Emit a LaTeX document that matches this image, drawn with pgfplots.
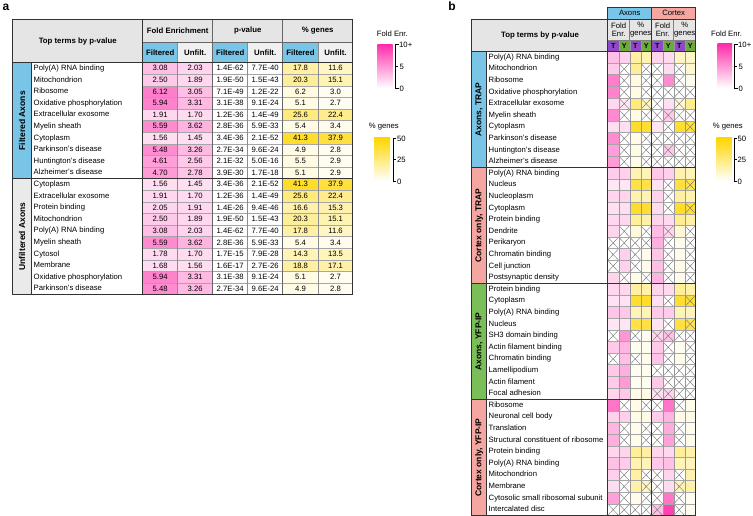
\documentclass[border=0pt]{standalone}
\usepackage{fontspec}
\setmainfont{Liberation Sans}
\usepackage{pgfplots}
\usepackage{pgfplotstable}
\pgfplotsset{compat=1.18}

\definecolor{cblue}{RGB}{120,197,232}
\definecolor{csalmon}{RGB}{246,166,160}
\definecolor{cgreen}{RGB}{122,190,88}
\definecolor{cpurple}{RGB}{142,72,200}
\definecolor{cgreenY}{RGB}{108,170,62}
\definecolor{hgray}{RGB}{229,229,229}
\definecolor{lgray}{RGB}{240,240,240}
\definecolor{sgray}{RGB}{234,234,234}
\definecolor{pinkmax}{RGB}{255,45,170}
\definecolor{yelmax}{RGB}{255,214,0}
\definecolor{lin}{RGB}{50,50,50}

\newcommand\fs{\fontsize{7.7}{9}\selectfont}
\newcommand\bfs{\bfseries\fontsize{7.8}{9}\selectfont}
\newcommand\sfs{\bfseries\fontsize{8.5}{10}\selectfont}

\pgfdeclareplotmark{acell}{\pgfpathrectangle{\pgfpoint{-17.5pt}{-5.8pt}}{\pgfpoint{35pt}{11.6pt}}\pgfusepathqfill}
\pgfdeclareplotmark{bcell}{\pgfpathrectangle{\pgfpoint{-5.5pt}{-5.8pt}}{\pgfpoint{11pt}{11.6pt}}\pgfusepathqfill}
\pgfdeclareplotmark{bx}{\pgfpathmoveto{\pgfpoint{-5.5pt}{-5.8pt}}\pgfpathlineto{\pgfpoint{5.5pt}{5.8pt}}\pgfpathmoveto{\pgfpoint{-5.5pt}{5.8pt}}\pgfpathlineto{\pgfpoint{5.5pt}{-5.8pt}}\pgfusepathqstroke}

\pgfplotsset{
  tl/.style={draw=none, mark=none, nodes near coords, point meta=explicit symbolic,
    every node near coord/.style={anchor=center, inner sep=0pt, text=black, font=\fs, text height=5.5pt, text depth=0.5pt}},
  tt/.style={draw=none, mark=none, nodes near coords, point meta=explicit symbolic,
    every node near coord/.style={anchor=west, inner sep=0pt, text=black, font=\fs, text height=5.5pt, text depth=1.5pt}},
  sc/.style={scatter, only marks, scatter/use mapped color={fill=mapped color}},
}

\pgfplotstableread[col sep=comma]{
term,f1,f2,p1,p2,g1,g2
Poly(A) RNA binding,3.08,2.03,1.4E-62,7.7E-40,17.8,11.6
Mitochondrion,2.50,1.89,1.9E-50,1.5E-43,20.3,15.1
Ribosome,6.12,3.05,7.1E-49,1.2E-22,6.2,3.0
Oxidative phosphorylation,5.94,3.31,3.1E-38,9.1E-24,5.1,2.7
Extracellular exosome,1.91,1.70,1.2E-36,1.4E-49,25.6,22.4
Myelin sheath,5.59,3.62,2.8E-36,5.9E-33,5.4,3.4
Cytoplasm,1.56,1.45,3.4E-36,2.1E-52,41.3,37.9
Parkinson's disease,5.48,3.26,2.7E-34,9.6E-24,4.9,2.8
Huntington's disease,4.61,2.56,2.1E-32,5.0E-16,5.5,2.9
Alzheimer's disease,4.70,2.78,3.9E-30,1.7E-18,5.1,2.9
Cytoplasm,1.56,1.45,3.4E-36,2.1E-52,41.3,37.9
Extracellular exosome,1.91,1.70,1.2E-36,1.4E-49,25.6,22.4
Protein binding,2.05,1.91,1.4E-26,9.4E-46,16.6,15.3
Mitochondrion,2.50,1.89,1.9E-50,1.5E-43,20.3,15.1
Poly(A) RNA binding,3.08,2.03,1.4E-62,7.7E-40,17.8,11.6
Myelin sheath,5.59,3.62,2.8E-36,5.9E-33,5.4,3.4
Cytosol,1.78,1.70,1.7E-15,7.9E-28,14.3,13.5
Membrane,1.68,1.56,1.6E-17,2.7E-26,18.8,17.1
Oxidative phosphorylation,5.94,3.31,3.1E-38,9.1E-24,5.1,2.7
Parkinson's disease,5.48,3.26,2.7E-34,9.6E-24,4.9,2.8
}\tabA

\pgfplotstableread[col sep=comma]{
term,va,vb,vc,vd,ve,vf,vg,vh
Poly(A) RNA binding,3.08,2.2,17.8,15,2.0,1.8,12,11
Mitochondrion,2.50,0,20.3,0,0,1.6,0,10
Ribosome,6.12,0,6.2,0,0,5.5,0,4
Oxidative phosphorylation,5.94,0,5.1,0,0,0,0,0
Extracellular exosome,1.91,1.2,25.6,12,0,1.5,8,22
Myelin sheath,5.59,0,5.4,0,0,2.5,0,0
Cytoplasm,1.56,1.5,41.3,40,1.3,0,40,38
Parkinson's disease,5.48,0,4.9,0,0,0,0,0
Huntington's disease,4.61,0,5.5,0,0,2.5,0,0
Alzheimer's disease,4.70,0,5.1,0,0,0,0,0
Poly(A) RNA binding,2.4,2.2,15,14,2.6,2.3,16,14
Nucleus,1.2,1.2,36,35,1.4,0,37,35
Nucleoplasm,2.0,2.0,16,15,2.1,0,18,16
Cytoplasm,1.5,1.5,41,40,1.6,0,42,40
Protein binding,1.9,1.9,20,17,2.0,1.8,22,18
Dendrite,2.0,0,7,0,3.2,2.0,8,0
Perikaryon,0,0,0,0,3.8,0,4,0
Chromatin binding,0,2.3,0,4,2.8,0,4,0
Cell junction,0,2.2,0,4,3.0,0,5,0
Postsynaptic density,2.0,0,4,0,3.5,0,4,0
Protein binding,1.9,1.9,18,17,2.0,1.8,20,17
Cytoplasm,1.4,1.4,40,42,1.5,0,40,40
Poly(A) RNA binding,2.8,2.6,14,14,2.5,2.4,14,13
Nucleus,1.2,1.2,36,37,1.3,0,37,35
SH3 domain binding,0,5.0,0,3,2.0,3.0,0,0
Actin filament binding,2.5,3.5,3,3,2.5,0,3,0
Chromatin binding,0,3.0,0,4,2.8,0,4,0
Lamellipodium,2.5,3.8,3,3,0,0,0,0
Actin filament,2.5,4.8,3,3,2.6,0,0,0
Focal adhesion,2.0,2.6,5,5,1.5,2.0,0,0
Ribosome,6.5,0,5,0,0,6.5,0,4
Neuronal cell body,2.2,2.3,5,5,2.4,3.5,5,5
Translation,3.5,0,4,0,0,4.0,0,4
Structural constituent of ribosome,3.8,0,4,0,0,4.5,0,4
Protein binding,2.0,2.0,20,18,2.0,1.9,20,17
Poly(A) RNA binding,3.0,2.4,15,14,2.5,3.0,14,13
Mitochondrion,2.3,0,18,0,0,2.0,0,16
Membrane,1.6,0,17,12,0,1.6,14,17
Cytosolic small ribosomal subunit,4.5,0,4,0,0,6.5,0,3
Intercalated disc,0,0,0,0,3.0,9.0,0,3
}\tabB

\pgfplotstableread[row sep=\\]{
c r\\
2 2\\ 4 2\\ 5 2\\ 7 2\\
2 3\\ 4 3\\ 5 3\\ 7 3\\
2 4\\ 4 4\\ 5 4\\ 6 4\\ 7 4\\ 8 4\\
2 5\\ 4 5\\ 5 5\\ 7 5\\
2 6\\ 4 6\\ 5 6\\ 6 6\\ 7 6\\ 8 6\\
6 7\\ 8 7\\
2 8\\ 4 8\\ 5 8\\ 6 8\\ 7 8\\ 8 8\\
2 9\\ 4 9\\ 5 9\\ 6 9\\ 7 9\\ 8 9\\
2 10\\ 4 10\\ 5 10\\ 6 10\\ 7 10\\ 8 10\\
6 12\\ 8 12\\
6 13\\
6 14\\ 8 14\\
2 16\\ 4 16\\ 6 16\\ 8 16\\
1 17\\ 2 17\\ 3 17\\ 4 17\\ 6 17\\ 8 17\\
1 18\\ 3 18\\ 6 18\\ 8 18\\
1 19\\ 3 19\\ 6 19\\ 8 19\\
2 20\\ 4 20\\ 6 20\\ 8 20\\
6 22\\ 8 22\\
6 24\\ 8 24\\
1 25\\ 3 25\\ 5 25\\ 6 25\\ 7 25\\ 8 25\\
6 26\\ 8 26\\
1 27\\ 3 27\\ 6 27\\ 8 27\\
5 28\\ 6 28\\ 7 28\\ 8 28\\
6 29\\ 7 29\\ 8 29\\
5 30\\ 6 30\\ 7 30\\ 8 30\\
2 31\\ 4 31\\ 5 31\\ 7 31\\
2 33\\ 4 33\\ 5 33\\ 7 33\\
2 34\\ 4 34\\ 5 34\\ 7 34\\
2 37\\ 4 37\\ 5 37\\ 7 37\\
2 38\\ 4 38\\ 5 38\\ 7 38\\
2 39\\ 4 39\\ 5 39\\ 7 39\\
1 40\\ 2 40\\ 3 40\\ 4 40\\ 5 40\\ 7 40\\
}\tabX

\begin{document}
\begin{tikzpicture}
% ---------- backgrounds ----------
\begin{scope}[shift={(0,516pt)}, x=1pt, y=-1pt]
  \fill[hgray] (12.7,19.3) rectangle (352.7,42.3);
  \fill[hgray] (12.7,42.3) rectangle (142.7,62.7);
  \foreach \x in {142.7,212.7,282.7} {
    \fill[cblue] (\x,42.3) rectangle ({\x+35},62.7);
    \fill[lgray] ({\x+35},42.3) rectangle ({\x+70},62.7);
  }
  \fill[cblue] (12.7,62.7) rectangle (31.7,178.7);
  \fill[sgray] (12.7,178.7) rectangle (31.7,294.7);
  \fill[hgray] (471.7,19) rectangle (695.7,40.5);
  \fill[hgray] (471.7,40.5) rectangle (607.7,51.5);
  \fill[cblue] (607.7,7) rectangle (651.7,19);
  \fill[csalmon] (651.7,7) rectangle (695.7,19);
  \foreach \x in {607.7,629.7,651.7,673.7} {
    \fill[cpurple] (\x,40.5) rectangle ({\x+11},51.5);
    \fill[cgreenY] ({\x+11},40.5) rectangle ({\x+22},51.5);
  }
  \fill[cblue] (471.7,51.5) rectangle (486.7,167.5);
  \fill[csalmon] (471.7,167.5) rectangle (486.7,283.5);
  \fill[cgreen] (471.7,283.5) rectangle (486.7,399.5);
  \fill[csalmon] (471.7,399.5) rectangle (486.7,515.5);
\end{scope}

% ---------- data ----------
\begin{axis}[at={(0,0)}, anchor=south west, scale only axis, width=753pt, height=516pt,
  xmin=0, xmax=753, ymin=0, ymax=516, y dir=reverse, hide axis, clip=false,
  enlargelimits=false, point meta min=-10, point meta max=10,
  colormap={pw}{rgb255=(255,45,170) rgb255=(255,255,255) rgb255=(255,214,0)}]
  \addplot[sc, mark=acell, point meta={-\thisrow{f1}}] table[x expr=160.2, y expr={68.5+11.6*\coordindex}] {\tabA};
  \addplot[sc, mark=acell, point meta={-\thisrow{f2}}] table[x expr=195.2, y expr={68.5+11.6*\coordindex}] {\tabA};
  \addplot[sc, mark=acell, point meta={\thisrow{g1}/5}] table[x expr=300.5, y expr={68.5+11.6*\coordindex}] {\tabA};
  \addplot[sc, mark=acell, point meta={\thisrow{g2}/5}] table[x expr=335.5, y expr={68.5+11.6*\coordindex}] {\tabA};
  \addplot[tt] table[x expr=33.5, y expr={68.5+11.6*\coordindex}, meta=term] {\tabA};
  \addplot[tl] table[x expr=160.2, y expr={68.5+11.6*\coordindex}, meta=f1] {\tabA};
  \addplot[tl] table[x expr=195.2, y expr={68.5+11.6*\coordindex}, meta=f2] {\tabA};
  \addplot[tl] table[x expr=230.2, y expr={68.5+11.6*\coordindex}, meta=p1] {\tabA};
  \addplot[tl] table[x expr=265.2, y expr={68.5+11.6*\coordindex}, meta=p2] {\tabA};
  \addplot[tl] table[x expr=300.5, y expr={68.5+11.6*\coordindex}, meta=g1] {\tabA};
  \addplot[tl] table[x expr=335.5, y expr={68.5+11.6*\coordindex}, meta=g2] {\tabA};
  \addplot[sc, mark=bcell, point meta={-\thisrow{va}}] table[x expr=613.2, y expr={57.3+11.6*\coordindex}] {\tabB};
  \addplot[sc, mark=bcell, point meta={-\thisrow{vb}}] table[x expr=624.2, y expr={57.3+11.6*\coordindex}] {\tabB};
  \addplot[sc, mark=bcell, point meta={\thisrow{vc}/5}] table[x expr=635.2, y expr={57.3+11.6*\coordindex}] {\tabB};
  \addplot[sc, mark=bcell, point meta={\thisrow{vd}/5}] table[x expr=646.2, y expr={57.3+11.6*\coordindex}] {\tabB};
  \addplot[sc, mark=bcell, point meta={-\thisrow{ve}}] table[x expr=657.2, y expr={57.3+11.6*\coordindex}] {\tabB};
  \addplot[sc, mark=bcell, point meta={-\thisrow{vf}}] table[x expr=668.2, y expr={57.3+11.6*\coordindex}] {\tabB};
  \addplot[sc, mark=bcell, point meta={\thisrow{vg}/5}] table[x expr=679.2, y expr={57.3+11.6*\coordindex}] {\tabB};
  \addplot[sc, mark=bcell, point meta={\thisrow{vh}/5}] table[x expr=690.2, y expr={57.3+11.6*\coordindex}] {\tabB};
  \addplot[only marks, mark=bx, black!55, line width=0.4pt] table[x expr={607.7+11*(\thisrow{c}-0.5)}, y expr={51.5+11.6*(\thisrow{r}-0.5)}] {\tabX};
  \addplot[tt] table[x expr=488.5, y expr={57.3+11.6*\coordindex}, meta=term] {\tabB};
\end{axis}

% ---------- legend gradients ----------
\shade[top color=pinkmax, bottom color=white] (377.3pt,471.7pt) rectangle (392.7pt,427.7pt);
\shade[top color=yelmax, bottom color=white] (374pt,378pt) rectangle (390pt,335pt);
\shade[top color=pinkmax, bottom color=white] (717.5pt,472pt) rectangle (732pt,428pt);
\shade[top color=yelmax, bottom color=white] (716.5pt,378pt) rectangle (731.5pt,335pt);

% ---------- lines and text ----------
\begin{scope}[shift={(0,516pt)}, x=1pt, y=-1pt]
  \foreach \k in {1,...,19} \draw[black!35, line width=0.4pt] (142.7,{62.7+11.6*\k}) -- (352.7,{62.7+11.6*\k});
  \foreach \x in {177.7,247.7,318.2} \draw[black!45, line width=0.45pt] (\x,42.3) -- (\x,294.7);
  \foreach \x in {212.7,282.7} \draw[black!60, line width=0.5pt] (\x,19.3) -- (\x,294.7);
  \draw[black!60, line width=0.5pt] (142.7,42.3) -- (352.7,42.3);
  \draw[lin, line width=0.9pt] (12.7,62.7) -- (352.7,62.7);
  \draw[lin, line width=0.9pt] (12.7,178.7) -- (352.7,178.7);
  \draw[lin, line width=0.9pt] (142.7,19.3) -- (142.7,294.7);
  \draw[lin, line width=0.9pt] (31.7,62.7) -- (31.7,294.7);
  \draw[lin, line width=0.9pt] (12.7,19.3) rectangle (352.7,294.7);
  \node[font=\bfseries\fontsize{12}{14}\selectfont] at (6,7) {a};
  \node[font=\bfs] at (77.7,41.2) {Top terms by p-value};
  \node[font=\bfs] at (177.7,30.8) {Fold Enrichment};
  \node[font=\bfs] at (247.7,30.8) {p-value};
  \node[font=\bfs] at (317.7,30.8) {\% genes};
  \foreach \x in {160.2,230.2,300.5} \node[font=\bfs] at (\x,52.5) {Filtered};
  \foreach \x in {195.2,265.2,335.5} \node[font=\bfs] at (\x,52.5) {Unfilt.};
  \node[font=\sfs, rotate=90] at (22.2,120.7) {Filtered Axons};
  \node[font=\sfs, rotate=90] at (22.2,236.7) {Unfiltered Axons};
  \node[font=\fs] at (392.3,33.3) {Fold Enr.};
  \draw[black, line width=0.6pt] (398.7,44.3) -- (395.7,44.3) -- (395.7,88.3) -- (398.7,88.3);
  \draw[black, line width=0.6pt] (395.7,66.3) -- (398.2,66.3);
  \node[font=\fs, anchor=west, inner sep=0pt] at (399,44.8) {10+};
  \node[font=\fs, anchor=west, inner sep=0pt] at (399.5,66.8) {5};
  \node[font=\fs, anchor=west, inner sep=0pt] at (399.5,88.8) {0};
  \node[font=\fs] at (383.8,126.7) {\% genes};
  \draw[black, line width=0.6pt] (396.3,138) -- (393.3,138) -- (393.3,181) -- (396.3,181);
  \draw[black, line width=0.6pt] (393.3,159.5) -- (395.8,159.5);
  \node[font=\fs, anchor=west, inner sep=0pt] at (397,138.5) {50};
  \node[font=\fs, anchor=west, inner sep=0pt] at (397,160) {25};
  \node[font=\fs, anchor=west, inner sep=0pt] at (397,181.5) {0};

  \foreach \k in {1,...,39} \draw[black!35, line width=0.4pt] (607.7,{51.5+11.6*\k}) -- (695.7,{51.5+11.6*\k});
  \foreach \x in {618.7,629.7,640.7,662.7,673.7,684.7} \draw[black!40, line width=0.4pt] (\x,40.5) -- (\x,515.5);
  \foreach \x in {629.7,673.7} \draw[black!50, line width=0.45pt] (\x,19) -- (\x,40.5);
  \draw[black!50, line width=0.45pt] (607.7,40.5) -- (695.7,40.5);
  \draw[lin, line width=0.9pt] (607.7,7) rectangle (695.7,19);
  \draw[lin, line width=0.9pt] (651.7,7) -- (651.7,515.5);
  \draw[lin, line width=0.9pt] (607.7,19) -- (607.7,515.5);
  \draw[lin, line width=0.9pt] (486.7,51.5) -- (486.7,515.5);
  \foreach \y in {51.5,167.5,283.5,399.5} \draw[lin, line width=0.9pt] (471.7,\y) -- (695.7,\y);
  \draw[lin, line width=0.9pt] (471.7,19) rectangle (695.7,515.5);
  \node[font=\bfseries\fontsize{12}{14}\selectfont] at (452,6) {b};
  \node[font=\bfs] at (540,35.5) {Top terms by p-value};
  \node[font=\fs] at (629.7,13.2) {Axons};
  \node[font=\fs] at (673.7,13.2) {Cortex};
  \foreach \x in {618.7,662.7} {
    \node[font=\fs, inner sep=0pt] at (\x,25.3) {Fold};
    \node[font=\fs, inner sep=0pt] at (\x,34.3) {Enr.};
  }
  \foreach \x in {640.7,684.7} {
    \node[font=\fs, inner sep=0pt] at (\x,25.3) {\%};
    \node[font=\fs, inner sep=0pt] at (\x,34.3) {genes};
  }
  \foreach \x in {613.2,635.2,657.2,679.2} \node[font=\bfseries\fontsize{7.2}{8}\selectfont, inner sep=0pt] at (\x,46.2) {T};
  \foreach \x in {624.2,646.2,668.2,690.2} \node[font=\bfseries\fontsize{7.2}{8}\selectfont, inner sep=0pt] at (\x,46.2) {Y};
  \node[font=\sfs, rotate=90] at (479.2,109.5) {Axons, TRAP};
  \node[font=\sfs, rotate=90] at (479.2,225.5) {Cortex only, TRAP};
  \node[font=\sfs, rotate=90] at (479.2,341.5) {Axons, YFP-IP};
  \node[font=\sfs, rotate=90] at (479.2,457.5) {Cortex only, YFP-IP};
  \node[font=\fs] at (726.5,33.3) {Fold Enr.};
  \draw[black, line width=0.6pt] (737.5,44) -- (734.5,44) -- (734.5,88) -- (737.5,88);
  \draw[black, line width=0.6pt] (734.5,66) -- (737,66);
  \node[font=\fs, anchor=west, inner sep=0pt] at (738,44.5) {10+};
  \node[font=\fs, anchor=west, inner sep=0pt] at (738.5,66.5) {5};
  \node[font=\fs, anchor=west, inner sep=0pt] at (738.5,88.5) {0};
  \node[font=\fs] at (727.8,126.7) {\% genes};
  \draw[black, line width=0.6pt] (737,138) -- (734,138) -- (734,181) -- (737,181);
  \draw[black, line width=0.6pt] (734,159.5) -- (736.5,159.5);
  \node[font=\fs, anchor=west, inner sep=0pt] at (737.5,138.5) {50};
  \node[font=\fs, anchor=west, inner sep=0pt] at (737.5,160) {25};
  \node[font=\fs, anchor=west, inner sep=0pt] at (737.5,181.5) {0};
\end{scope}
\pgfresetboundingbox
\path[use as bounding box] (0,0) rectangle (753pt,516pt);
\end{tikzpicture}
\end{document}
